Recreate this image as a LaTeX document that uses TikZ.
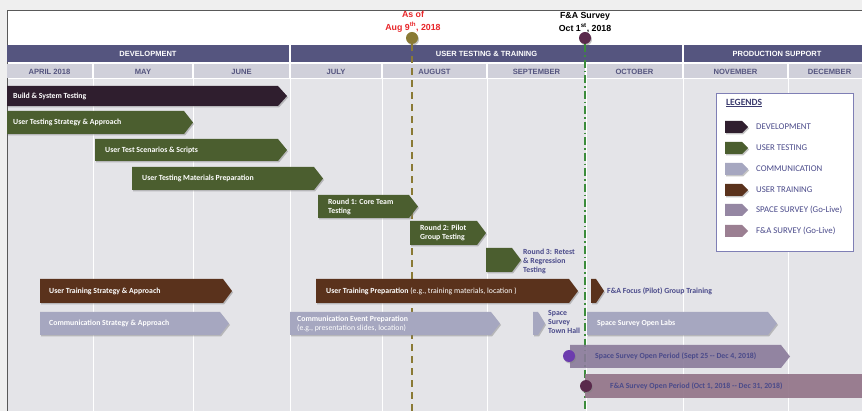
\documentclass[tikz,border=0pt]{standalone}
\usepackage{fontspec}
\newfontfamily\arialf{Liberation Sans}
\newfontfamily\calib{Carlito}
\usetikzlibrary{shadows}

\definecolor{framebg}{HTML}{EFEFEF}
\definecolor{chartbg}{HTML}{E4E4E8}
\definecolor{phasecol}{HTML}{55557F}
\definecolor{monthcol}{HTML}{D0D0DA}
\definecolor{devcol}{HTML}{2F1E2E}
\definecolor{testcol}{HTML}{4B5E2F}
\definecolor{traincol}{HTML}{5A321C}
\definecolor{commcol}{HTML}{A6A7C0}
\definecolor{spacecol}{HTML}{8A7A9A}
\definecolor{facol}{HTML}{917287}
\definecolor{olivecol}{HTML}{8A7A35}
\definecolor{greencol}{HTML}{3C8C3C}
\definecolor{plumcol}{HTML}{5A2A4C}
\definecolor{violetcol}{HTML}{6C3CAE}
\definecolor{labcol}{HTML}{4A4A8A}
\definecolor{legcol}{HTML}{7F7FB5}
\definecolor{redcol}{HTML}{E8262A}

\tikzset{
	phase/.style={fill=phasecol, text=white, minimum height=17, inner sep=0,
		font=\arialf\bfseries\fontsize{7.5}{8}\selectfont},
	month/.style={fill=monthcol, text=phasecol, minimum height=14, inner sep=0,
		font=\arialf\bfseries\fontsize{7.6}{8}\selectfont},
	bartext/.style={anchor=west, text=white, align=left, inner sep=0,
		font=\calib\bfseries\fontsize{7.8}{9}\selectfont},
	outtext/.style={bartext, text=labcol},
	legtext/.style={anchor=west, inner sep=0, text=labcol,
		font=\calib\fontsize{8.8}{10}\selectfont},
	marktext/.style={align=center, inner sep=0,
		font=\arialf\bfseries\fontsize{8.8}{12.5}\selectfont},
	barshadow/.style={drop shadow={shadow xshift=1pt, shadow yshift=-1.5pt, opacity=0.45}},
	devbar/.style={fill=devcol, barshadow},
	testbar/.style={fill=testcol, barshadow},
	trainbar/.style={fill=traincol, barshadow},
	commbar/.style={fill=commcol, barshadow},
	spacebar/.style={fill=spacecol, fill opacity=0.9},
	fabar/.style={fill=facol, fill opacity=0.9},
	dot/.style={circle, inner sep=0, minimum size=12, barshadow},
}

% arrow bar: [tip]{style}{x left}{x right}{y top}{y bottom}
\newcommand{\ganttbar}[6][9]{%
	\path[#2] (#3,#5) -- ({#4-#1},#5) -- (#4,{(#5+#6)/2}) -- ({#4-#1},#6) -- (#3,#6) -- cycle;}

\begin{document}
\begin{tikzpicture}[x=1pt, y=-1pt]
	\useasboundingbox (0,0) rectangle (862,411);
%		frame
	\fill[framebg] (0,0) rectangle (862,411);
	\fill[white] (7,11) rectangle (875,420);
	\fill[chartbg] (7,79) rectangle (875,420);
	\draw[black!65, line width=1] (7,420) -- (7,11) -- (875,11);
%		phases
	\node[phase, minimum width=282] (dev) at (148,53.5) {DEVELOPMENT};
	\node[phase, minimum width=391] (uat) at (486.5,53.5) {USER TESTING \& TRAINING};
	\node[phase, minimum width=186] (prod) at (777,53.5) {PRODUCTION SUPPORT};
%		months
	\foreach \a/\b/\t [count=\i] in {7/92/APRIL 2018, 94/192/MAY, 194/289/JUNE,
		291/381/JULY, 383/486/AUGUST, 488/585/SEPTEMBER, 587/682/OCTOBER,
		684/787/NOVEMBER, 789/870/DECEMBER}
		\node[month, minimum width={\b-\a}] (m\i) at ({(\a+\b)/2},71.5) {\t};
	\foreach \x in {93,193,290,382,487,586,683,788}
		\draw[white, line width=1] (\x,79) -- (\x,411);
%		markers
	\node[marktext, text=redcol] (asoftext) at (413,21.5) {As of\\Aug 9\textsuperscript{th}, 2018};
	\node[marktext] (surveytext) at (585,22.5) {F\&A Survey\\Oct 1\textsuperscript{st}, 2018};
	\node[dot, fill=olivecol] (asofdot) at (412,38) {};
	\node[dot, fill=plumcol] (surveydot) at (585,38) {};
	\coordinate (asofend) at (412,411);
	\coordinate (surveyend) at (585,411);
	\draw[olivecol, line width=1.8, dash pattern=on 7pt off 5pt] (asofdot) -- (asofend);
	\draw[greencol, line width=1.8, dash pattern=on 8pt off 3pt on 1.5pt off 3pt] (surveydot) -- (surveyend);
%		development
	\ganttbar{devbar}{7}{287}{86}{106}
	\node[bartext] (build) at (13,96) {Build \& System Testing};
%		user testing
	\ganttbar{testbar}{7}{193}{111}{134}
	\node[bartext] (utstrat) at (13,122.5) {User Testing Strategy \& Approach};
	\ganttbar{testbar}{95}{287}{139}{161}
	\node[bartext] (utscen) at (105,150) {User Test Scenarios \& Scripts};
	\ganttbar{testbar}{132}{323}{167}{190}
	\node[bartext] (utmat) at (142,178.5) {User Testing Materials Preparation};
	\ganttbar{testbar}{318}{418}{195}{218}
	\node[bartext] (round1) at (328,207) {Round 1: Core Team\\Testing};
	\ganttbar{testbar}{410}{486}{221}{245}
	\node[bartext] (round2) at (420,233) {Round 2: Pilot\\Group Testing};
	\ganttbar{testbar}{486}{521}{248}{272}
	\node[outtext] (round3) at (523,261) {Round 3: Retest\\\& Regression\\Testing};
%		user training
	\ganttbar{trainbar}{40}{232}{279}{303}
	\node[bartext] (trstrat) at (49,291) {User Training Strategy \& Approach};
	\ganttbar{trainbar}{316}{578}{279}{303}
	\node[bartext] (trprep) at (326,291) {User Training Preparation {\mdseries (e.g., training materials, location )}};
	\ganttbar[8]{trainbar}{591}{604}{279}{303}
	\node[outtext] (fafocus) at (607,291) {F\&A Focus (Pilot) Group Training};
%		communication
	\ganttbar{commbar}{40}{229}{312}{335}
	\node[bartext] (costrat) at (49,323.5) {Communication Strategy \& Approach};
	\ganttbar{commbar}{290}{500}{312}{335}
	\node[bartext] (coevent) at (297,323.5) {Communication Event Preparation\\{\mdseries (e.g., presentation slides, location)}};
	\ganttbar[7]{commbar}{533}{545}{312}{335}
	\node[outtext] (townhall) at (548,322) {Space\\Survey\\Town Hall};
	\ganttbar{commbar}{587}{777}{312}{335}
	\node[bartext] (oplabs) at (597,323.5) {Space Survey Open Labs};
%		go-live
	\ganttbar{spacebar}{570}{790}{345}{368}
	\node[outtext] (spperiod) at (595,356.5) {Space Survey Open Period (Sept 25 -- Dec 4, 2018)};
	\path[fabar] (585,374) rectangle (875,398);
	\node[outtext] (faperiod) at (610,386) {F\&A Survey Open Period (Oct 1, 2018 -- Dec 31, 2018)};
	\node[dot, fill=violetcol] (spstart) at (569,356) {};
	\node[dot, fill=plumcol] (fastart) at (586,386) {};
%		legend
	\node[draw=legcol, line width=1.2, fill=white, minimum width=137, minimum height=158,
		anchor=north west] (legend) at (716,93) {};
	\node[anchor=west, inner sep=0, text=labcol!80!black,
		font=\calib\bfseries\fontsize{9.5}{10}\selectfont] (legtitle) at (726,103) {\underline{LEGENDS}};
	\foreach \s/\y/\t [count=\i] in {devbar/127/DEVELOPMENT, testbar/148/{USER TESTING},
		commbar/169/COMMUNICATION, trainbar/190/{USER TRAINING},
		spacebar/210/{SPACE SURVEY (Go-Live)}, fabar/231/{F\&A SURVEY (Go-Live)}} {
		\ganttbar[6]{\s}{725}{748}{\y-6}{\y+6}
		\node[legtext] (leg\i) at (756,\y) {\t};
	}
\end{tikzpicture}
\end{document}
